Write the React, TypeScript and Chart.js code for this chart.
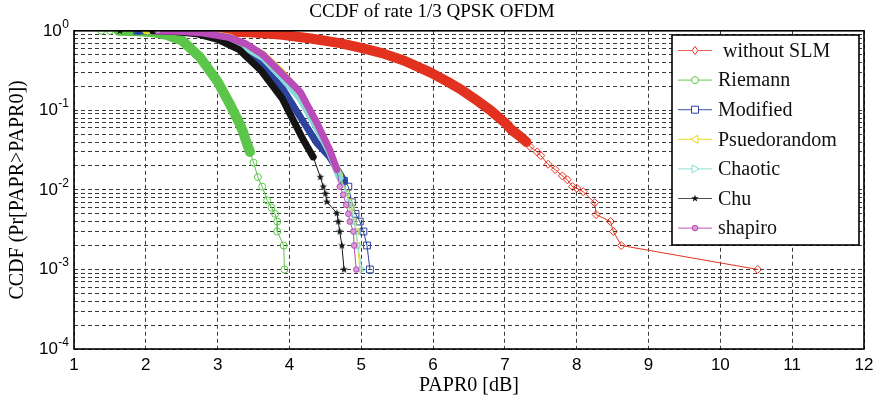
import React, { useEffect, useRef } from 'react';
import { Chart, registerables } from 'chart.js';

Chart.register(...registerables);

// ---------- data ----------
const chartTitle = 'CCDF of rate 1/3 QPSK OFDM';
const xAxisTitle = 'PAPR0 [dB]';
const yAxisTitle = 'CCDF (Pr[PAPR>PAPR0])';

const seriesNames = [' without SLM', 'Riemann', 'Modified', 'Psuedorandom', 'Chaotic', 'Chu', 'shapiro'];
const seriesColors = ['#e2321f', '#5cc64a', '#2c43a0', '#e3d81c', '#86dcd4', '#141414', '#b94cb8'];

const xTickValues = [1, 2, 3, 4, 5, 6, 7, 8, 9, 10, 11, 12];
const yDecades = [-4, -3, -2, -1, 0];
const yMantissas = [1, 2, 3, 4, 5, 6, 7, 8, 9];

const withoutSlmX = [2.55, 3.0, 3.5, 3.9, 4.3, 4.7, 5.0, 5.3, 5.6, 5.96, 6.2, 6.4, 6.6, 6.8, 7.0, 7.1, 7.2, 7.3, 7.35, 7.45, 7.5, 7.6, 7.7, 7.8, 7.87, 7.94, 8.0, 8.09, 8.25, 8.27, 8.47, 8.51, 8.62, 10.52];
const withoutSlmY = [1.0, 0.985, 0.95, 0.89, 0.8, 0.7, 0.61, 0.52, 0.42, 0.3, 0.23, 0.18, 0.135, 0.1, 0.07, 0.056, 0.048, 0.04, 0.035, 0.03, 0.027, 0.021, 0.018, 0.015, 0.0134, 0.011, 0.0105, 0.0095, 0.0069, 0.0049, 0.004, 0.003, 0.002, 0.001];

const riemannX = [1.38, 1.5, 1.62, 1.9, 2.1, 2.3, 2.5, 2.75, 3.0, 3.17, 3.3, 3.35, 3.4, 3.45, 3.5, 3.56, 3.62, 3.69, 3.75, 3.8, 3.83, 3.83, 3.92, 3.93];
const riemannY = [1.0, 1.0, 1.0, 0.99, 0.96, 0.88, 0.76, 0.47, 0.23, 0.12, 0.07, 0.055, 0.04, 0.03, 0.022, 0.0145, 0.011, 0.0074, 0.006, 0.005, 0.004, 0.003, 0.002, 0.001];

const modifiedX = [1.88, 2.2, 2.5, 2.8, 3.0, 3.3, 3.6, 3.9, 4.15, 4.38, 4.56, 4.7, 4.76, 4.82, 4.87, 4.92, 4.98, 5.03, 5.08, 5.12];
const modifiedY = [1.0, 0.995, 0.98, 0.92, 0.82, 0.63, 0.38, 0.19, 0.083, 0.039, 0.026, 0.016, 0.013, 0.011, 0.007, 0.005, 0.004, 0.003, 0.002, 0.001];

const pseudoX = [2.0, 2.5, 2.8, 3.17, 3.63, 3.91, 4.15, 4.38, 4.56, 4.7, 4.8, 4.84, 4.87, 4.9, 4.93, 4.95, 4.98];
const pseudoY = [1.0, 0.985, 0.95, 0.83, 0.51, 0.29, 0.16, 0.065, 0.03, 0.015, 0.009, 0.007, 0.006, 0.004, 0.003, 0.002, 0.001];

const chaoticX = [2.1, 2.5, 2.8, 3.17, 3.63, 3.91, 4.15, 4.38, 4.56, 4.7, 4.8, 4.83, 4.86, 4.9, 4.93, 4.95, 5.01];
const chaoticY = [1.0, 0.98, 0.93, 0.8, 0.46, 0.25, 0.14, 0.06, 0.03, 0.014, 0.009, 0.007, 0.006, 0.004, 0.003, 0.002, 0.001];

const chuX = [1.64, 2.1, 2.4, 2.7, 3.0, 3.3, 3.6, 3.9, 4.05, 4.19, 4.33, 4.43, 4.47, 4.5, 4.52, 4.66, 4.68, 4.7, 4.73, 4.76];
const chuY = [1.0, 1.0, 0.98, 0.92, 0.78, 0.58, 0.32, 0.14, 0.076, 0.043, 0.026, 0.0145, 0.011, 0.009, 0.0071, 0.0051, 0.004, 0.003, 0.002, 0.001];

const shapiroX = [2.17, 2.5, 2.8, 3.17, 3.4, 3.63, 3.91, 4.15, 4.38, 4.56, 4.66, 4.7, 4.75, 4.79, 4.82, 4.84, 4.89, 4.9, 4.93];
const shapiroY = [1.0, 0.98, 0.94, 0.82, 0.68, 0.5, 0.28, 0.17, 0.07, 0.032, 0.018, 0.011, 0.0087, 0.0065, 0.005, 0.004, 0.003, 0.002, 0.001];

const seriesX = [withoutSlmX, riemannX, modifiedX, pseudoX, chaoticX, chuX, shapiroX];
const seriesY = [withoutSlmY, riemannY, modifiedY, pseudoY, chaoticY, chuY, shapiroY];

// styling per series (not data)
const markerStyles = ['diamond', 'circle', 'square', 'triLeft', 'triRight', 'star', 'dot'];
const bandWidths = [10, 10, 7, 7, 7, 7, 7];
const bandAbove = [0.04, 0.03, 0.012, 0.012, 0.012, 0.02, 0.012];
const markersBelow = [0.05, 0.06, 0.015, 0.015, 0.015, 0.03, 0.015];

function makeStar(color: string, r: number) {
  const c = document.createElement('canvas');
  const s = Math.ceil(r * 2 + 2);
  c.width = s;
  c.height = s;
  const g = c.getContext('2d')!;
  g.fillStyle = color;
  g.beginPath();
  for (let k = 0; k < 10; k++) {
    const rad = k % 2 === 0 ? r : r * 0.42;
    const a = -Math.PI / 2 + (k * Math.PI) / 5;
    const px = s / 2 + rad * Math.cos(a);
    const py = s / 2 + rad * Math.sin(a);
    if (k === 0) g.moveTo(px, py);
    else g.lineTo(px, py);
  }
  g.closePath();
  g.fill();
  return c;
}

function drawLegendMarker(ctx: CanvasRenderingContext2D, style: string, x: number, y: number, color: string) {
  ctx.save();
  ctx.strokeStyle = color;
  ctx.fillStyle = color;
  ctx.lineWidth = 1;
  ctx.beginPath();
  if (style === 'diamond') {
    ctx.moveTo(x, y - 4); ctx.lineTo(x + 3, y); ctx.lineTo(x, y + 4); ctx.lineTo(x - 3, y); ctx.closePath();
    ctx.fillStyle = '#fff'; ctx.fill(); ctx.stroke();
  } else if (style === 'circle') {
    ctx.arc(x, y, 3.5, 0, Math.PI * 2);
    ctx.fillStyle = '#fff'; ctx.fill(); ctx.stroke();
  } else if (style === 'square') {
    ctx.rect(x - 3.5, y - 3.5, 7, 7);
    ctx.fillStyle = '#fff'; ctx.fill(); ctx.stroke();
  } else if (style === 'triLeft') {
    ctx.moveTo(x - 4, y); ctx.lineTo(x + 3, y - 4); ctx.lineTo(x + 3, y + 4); ctx.closePath();
    ctx.fillStyle = '#fff'; ctx.fill(); ctx.stroke();
  } else if (style === 'triRight') {
    ctx.moveTo(x + 4, y); ctx.lineTo(x - 3, y - 4); ctx.lineTo(x - 3, y + 4); ctx.closePath();
    ctx.fillStyle = '#fff'; ctx.fill(); ctx.stroke();
  } else if (style === 'star') {
    for (let k = 0; k < 10; k++) {
      const rad = k % 2 === 0 ? 3.8 : 1.6;
      const a = -Math.PI / 2 + (k * Math.PI) / 5;
      const px = x + rad * Math.cos(a);
      const py = y + rad * Math.sin(a);
      if (k === 0) ctx.moveTo(px, py); else ctx.lineTo(px, py);
    }
    ctx.closePath();
    ctx.fill();
  } else {
    ctx.arc(x, y, 2.8, 0, Math.PI * 2);
    ctx.fillStyle = '#d99ad8'; ctx.fill(); ctx.stroke();
  }
  ctx.restore();
}

const overlayPlugin = {
  id: 'matlabOverlay',
  afterDraw(chart: any) {
    const ctx: CanvasRenderingContext2D = chart.ctx;
    const area = chart.chartArea;
    const ys = chart.scales.y;
    ctx.save();
    // axes box
    ctx.strokeStyle = '#000';
    ctx.lineWidth = 1.6;
    ctx.setLineDash([]);
    ctx.strokeRect(area.left, area.top, area.right - area.left, area.bottom - area.top);

    // y tick labels 10^n
    ctx.fillStyle = '#000';
    ctx.textAlign = 'right';
    ctx.textBaseline = 'alphabetic';
    for (const e of yDecades) {
      const py = ys.getPixelForValue(Math.pow(10, e));
      const sup = String(e);
      ctx.font = '12px "Liberation Sans", Arial, sans-serif';
      const sw = ctx.measureText(sup).width;
      const right = 69;
      ctx.fillText(sup, right, py - 3);
      ctx.font = '17px "Liberation Sans", Arial, sans-serif';
      ctx.fillText('10', right - sw - 0.5, py + 5);
    }

    // legend
    const lx = 672, ly = 35, lw = 187, lh = 210;
    ctx.fillStyle = '#fff';
    ctx.fillRect(lx, ly, lw, lh);
    ctx.strokeStyle = '#000';
    ctx.lineWidth = 1.6;
    ctx.strokeRect(lx, ly, lw, lh);
    ctx.textAlign = 'left';
    ctx.textBaseline = 'middle';
    ctx.font = '20px "Liberation Serif", "Times New Roman", serif';
    seriesNames.forEach((name, i) => {
      const y = 50.5 + i * 29.6;
      ctx.strokeStyle = seriesColors[i];
      ctx.globalAlpha = 0.75;
      ctx.lineWidth = 1.2;
      ctx.beginPath();
      ctx.moveTo(678, y);
      ctx.lineTo(712, y);
      ctx.stroke();
      ctx.globalAlpha = 1;
      drawLegendMarker(ctx, markerStyles[i], 695, y, seriesColors[i]);
      ctx.fillStyle = '#111';
      ctx.fillText(name, 718, y + 1);
    });
    ctx.restore();
  },
};

export default function App() {
  const canvasRef = useRef<HTMLCanvasElement | null>(null);

  useEffect(() => {
    const canvas = canvasRef.current;
    if (!canvas) return;
    const star = makeStar('#141414', 4);
    const starImg = star;

    const datasets = seriesNames.map((name, i) => {
      const style = markerStyles[i];
      let pointStyle: any = 'circle';
      let rotation = 0;
      let radius = 3.5;
      let bg = 'rgba(255,255,255,0)';
      if (style === 'diamond') { pointStyle = 'rectRot'; radius = 4; }
      else if (style === 'circle') { pointStyle = 'circle'; radius = 3.5; }
      else if (style === 'square') { pointStyle = 'rect'; radius = 4.8; }
      else if (style === 'triLeft') { pointStyle = 'triangle'; rotation = -90; radius = 4; }
      else if (style === 'triRight') { pointStyle = 'triangle'; rotation = 90; radius = 4; }
      else if (style === 'star') { pointStyle = starImg; radius = 4; }
      else { pointStyle = 'circle'; radius = 2.8; bg = '#d99ad8'; }
      const thr = bandAbove[i];
      const mk = markersBelow[i];
      return {
        label: name.trim(),
        data: seriesX[i].map((x, k) => ({ x, y: seriesY[i][k] })),
        showLine: true,
        borderColor: seriesColors[i],
        backgroundColor: bg,
        borderWidth: 1,
        borderJoinStyle: 'round',
        borderCapStyle: 'round',
        pointStyle,
        rotation,
        pointBorderWidth: 1,
        pointBorderColor: seriesColors[i],
        pointBackgroundColor: bg,
        pointRadius: (c: any) => {
          const y = c.raw ? c.raw.y : 1;
          return y <= mk || y >= 0.999 ? radius : 0;
        },
        pointHoverRadius: 0,
        order: 6 - i,
        segment: {
          borderWidth: (c: any) => {
            const y1 = c.p1.parsed.y;
            return y1 < 0.999 && y1 >= thr ? bandWidths[i] : 1;
          },
        },
      };
    });

    const yTicks: number[] = [];
    yDecades.forEach((e) => {
      yMantissas.forEach((m) => {
        const v = m * Math.pow(10, e);
        if (v <= 1.0000001) yTicks.push(v);
      });
    });

    const chart = new Chart(canvas, {
      type: 'scatter',
      data: { datasets: datasets as any },
      plugins: [overlayPlugin],
      options: {
        responsive: false,
        animation: false,
        events: [],
        layout: { padding: { left: 0, right: 16, top: 0, bottom: 0 } },
        plugins: {
          legend: { display: false },
          tooltip: { enabled: false },
          title: {
            display: true,
            text: chartTitle,
            color: '#000',
            font: { family: '"Liberation Serif", "Times New Roman", serif', size: 19, weight: 'normal' },
            padding: { top: 1, bottom: 7 },
          },
        },
        scales: {
          x: {
            type: 'linear',
            min: 1,
            max: 12,
            afterBuildTicks: (scale: any) => {
              scale.ticks = xTickValues.map((v) => ({ value: v }));
            },
            afterFit: (scale: any) => {
              scale.height = 57;
            },
            ticks: {
              color: '#000',
              padding: 6,
              font: { family: '"Liberation Sans", Arial, sans-serif', size: 17 },
              callback: (v: any) => String(v),
            },
            grid: { color: '#3a3a3a', lineWidth: 1, drawTicks: false },
            border: { display: false, dash: [4, 3] },
            title: {
              display: true,
              text: xAxisTitle,
              color: '#000',
              font: { family: '"Liberation Serif", "Times New Roman", serif', size: 20 },
              padding: { top: 0, bottom: 8 },
            },
          },
          y: {
            type: 'logarithmic',
            min: 1e-4,
            max: 1,
            afterBuildTicks: (scale: any) => {
              scale.ticks = yTicks.map((v) => ({ value: v }));
            },
            afterFit: (scale: any) => {
              scale.width = 74;
            },
            ticks: { display: false },
            grid: { color: '#3a3a3a', lineWidth: 1, drawTicks: false },
            border: { display: false, dash: [4, 3] },
            title: {
              display: true,
              text: yAxisTitle,
              color: '#000',
              font: { family: '"Liberation Serif", "Times New Roman", serif', size: 20 },
              padding: { top: 6, bottom: 0 },
            },
          },
        },
      } as any,
    });
    return () => chart.destroy();
  }, []);

  return (
    <div style={{ position: 'absolute', left: 0, top: 0, width: 880, height: 406, background: '#fff' }}>
      <canvas ref={canvasRef} width={880} height={406} style={{ display: 'block' }} />
    </div>
  );
}
